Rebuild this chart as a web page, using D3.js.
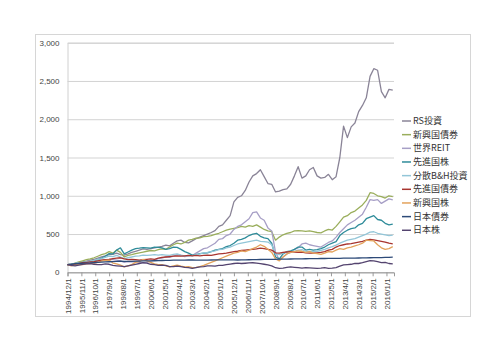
<!DOCTYPE html>
<html><head><meta charset="utf-8">
<script src="https://d3js.org/d3.v7.min.js"></script>
<style>body{margin:0;background:#fff;}svg{display:block;}</style>
</head><body>
<svg id="c" width="500" height="353"></svg>
<script>
// ---- data (quarterly, starting 1994/12) ----
const startDate = "1994/12/1";
const endDate = "2016/7/1";
const seriesNames = ["RS投資","新興国債券","世界REIT","先進国株","分散B&H投資","先進国債券","新興国株","日本債券","日本株"];
const seriesColors = ["#8a8497","#9aae5c","#a79fc6","#2f8c9a","#93c6d8","#a8352f","#e3a35c","#2d4a78","#54446f"];
const rs = [100,108,115,125,135,145,160,170,185,200,215,230,235,250,230,225,240,260,275,290,305,300,310,320,330,340,355,345,380,410,420,390,385,410,440,460,480,500,520,545,600,620,680,740,920,980,1000,1070,1180,1260,1290,1340,1250,1160,1150,1050,1060,1080,1090,1150,1260,1380,1230,1260,1340,1370,1260,1230,1240,1280,1210,1250,1500,1910,1760,1900,1950,2100,2180,2280,2560,2660,2640,2360,2280,2390,2380];
const emBond = [100,105,120,135,150,165,175,190,210,230,245,270,250,290,260,200,220,230,245,255,265,275,285,280,295,305,300,330,360,380,370,390,420,430,445,450,465,470,480,495,510,530,550,565,575,585,600,590,610,600,620,590,560,540,530,420,460,490,509,520,540,545,540,535,540,530,520,515,540,560,552,600,660,720,740,780,800,840,880,940,1040,1030,1000,990,970,1000,990];
const reit = [100,95,100,105,110,115,120,130,145,155,165,170,165,160,150,130,140,135,140,130,125,130,145,160,180,185,200,195,210,230,220,205,215,220,250,280,310,320,350,380,430,440,480,500,560,600,620,660,700,780,790,710,680,580,540,260,160,200,240,260,300,320,370,380,360,350,340,330,360,390,410,460,520,570,620,650,680,720,760,850,950,940,950,900,930,960,945];
const devStock = [100,95,110,120,125,135,140,150,165,185,210,245,240,290,320,240,265,290,310,315,322,320,315,330,325,318,300,310,330,325,300,270,250,225,230,245,250,255,270,290,300,310,335,350,380,420,430,450,480,500,510,470,450,440,380,200,175,240,270,280,300,330,330,290,300,290,295,310,330,360,380,400,480,520,550,570,580,620,640,700,720,740,690,680,640,620,630];
const bh = [100,105,115,125,130,140,145,155,170,180,195,210,205,220,200,180,190,200,210,215,225,220,225,230,225,230,225,220,235,240,225,215,220,215,230,240,255,260,270,280,295,300,320,330,350,370,380,390,400,410,420,405,400,395,360,240,230,250,265,270,275,290,295,275,270,270,275,285,300,320,335,355,380,400,420,430,440,460,480,500,525,530,510,500,490,480,487];
const devBond = [100,95,105,115,125,130,135,140,150,160,165,170,180,185,190,175,165,170,165,160,165,170,175,170,185,195,200,205,210,215,210,215,220,215,220,215,220,225,220,230,240,245,250,260,270,275,285,290,295,300,305,315,310,300,290,255,250,260,265,270,265,260,265,255,250,250,255,260,270,290,300,330,350,360,370,375,385,395,405,420,430,425,415,405,395,380,370];
const emStock = [100,85,95,100,100,110,115,120,130,145,155,160,120,110,95,70,85,100,130,140,170,150,130,110,100,100,85,70,85,95,80,70,75,60,65,75,90,110,130,150,170,190,210,230,250,260,280,270,290,310,330,360,340,300,260,175,150,200,240,260,270,280,275,260,270,250,245,235,250,270,265,290,310,300,320,330,345,360,380,420,415,410,360,320,300,310,335];
const jpBond = [100,105,112,115,118,120,122,126,130,132,135,138,140,142,145,143,142,143,145,146,148,149,150,151,153,154,155,156,158,158,159,160,161,162,160,158,159,160,161,162,163,163,162,162,162,161,162,163,164,165,166,167,168,168,169,170,171,172,173,174,175,175,176,177,178,178,179,180,180,181,182,182,183,184,184,185,186,187,188,189,190,191,192,193,194,196,197];
const jpStock = [100,90,85,95,105,110,115,105,100,100,110,105,90,85,80,75,85,95,105,115,125,120,105,100,90,95,90,75,75,80,75,65,60,50,60,70,75,85,85,80,90,90,100,108,115,120,115,118,122,125,120,112,105,96,85,60,52,55,65,70,65,60,55,62,58,55,52,55,60,52,55,62,80,96,100,105,117,115,125,139,152,150,140,126,130,115,109];
const seriesValues = [rs, emBond, reit, devStock, bh, devBond, emStock, jpBond, jpStock];
const yTicks = [0,500,1000,1500,2000,2500,3000];
const xTickLabels = ["1994/12/1","1995/11/1","1996/10/1","1997/9/1","1998/8/1","1999/7/1","2000/6/1","2001/5/1","2002/4/1","2003/3/1","2004/2/1","2005/1/1","2005/12/1","2006/11/1","2007/10/1","2008/9/1","2009/8/1","2010/7/1","2011/6/1","2012/5/1","2013/4/1","2014/3/1","2015/2/1","2016/1/1"];

// ---- drawing ----
const parse = d3.timeParse("%Y/%m/%d");
const t0 = parse(startDate);
const svg = d3.select("#c");
const L = 67.5, R = 394, T = 42.7, B = 272.3;
const x = d3.scaleTime().domain([t0, parse(endDate)]).range([L, R]);
const y = d3.scaleLinear().domain([0, 3000]).range([B, T]);

// outer frame
svg.append("rect").attr("x",35.5).attr("y",34.5).attr("width",435).attr("height",282)
  .attr("fill","#fff").attr("stroke","#d6d6d6").attr("stroke-width",1);

// gridlines + y labels
const yAxis = d3.axisLeft(y).tickValues(yTicks).tickSize(-(R-L)).tickPadding(8).tickFormat(d3.format(","));
const gy = svg.append("g").attr("transform",`translate(${L},0)`).call(yAxis);
gy.select(".domain").attr("stroke","#d0d0d0");
gy.selectAll(".tick line").attr("stroke","#d3d3d3");
gy.selectAll(".tick text").attr("font-family","Liberation Sans, Arial, sans-serif").attr("font-size","8px").attr("fill","#444");

// x axis
const xAxis = d3.axisBottom(x).tickValues(xTickLabels.map(parse)).tickSize(4).tickFormat((d,i)=>xTickLabels[i]);
const gx = svg.append("g").attr("transform",`translate(0,${B})`).call(xAxis);
gx.select(".domain").attr("stroke","#9a9a9a");
gx.selectAll(".tick line").attr("stroke","#9a9a9a");
gx.selectAll(".tick text").attr("font-family","Liberation Sans, Arial, sans-serif").attr("font-size","8px").attr("fill","#444")
  .attr("transform","rotate(-90)").attr("text-anchor","end").attr("x",-6).attr("y",0).attr("dy","0.33em");

// lines
const line = d3.line().x((d,i)=>x(d3.timeMonth.offset(t0, 3*i))).y(d=>y(d));
seriesValues.forEach((vals, si)=>{
  svg.append("path").datum(vals).attr("d", line).attr("fill","none")
    .attr("stroke", seriesColors[si]).attr("stroke-width",1.3).attr("stroke-linejoin","round");
});

// legend
const lg = svg.append("g").attr("transform","translate(402,121)");
seriesNames.forEach((n,i)=>{
  const g = lg.append("g").attr("transform",`translate(0,${i*13.66})`);
  g.append("line").attr("x1",0).attr("x2",9).attr("y1",0).attr("y2",0).attr("stroke",seriesColors[i]).attr("stroke-width",1.5);
  g.append("text").attr("x",11).attr("y",0).attr("dy","0.35em").attr("font-family","Noto Sans CJK JP, sans-serif")
    .attr("font-size","9px").attr("fill","#333").text(n);
});
</script>
</body></html>
